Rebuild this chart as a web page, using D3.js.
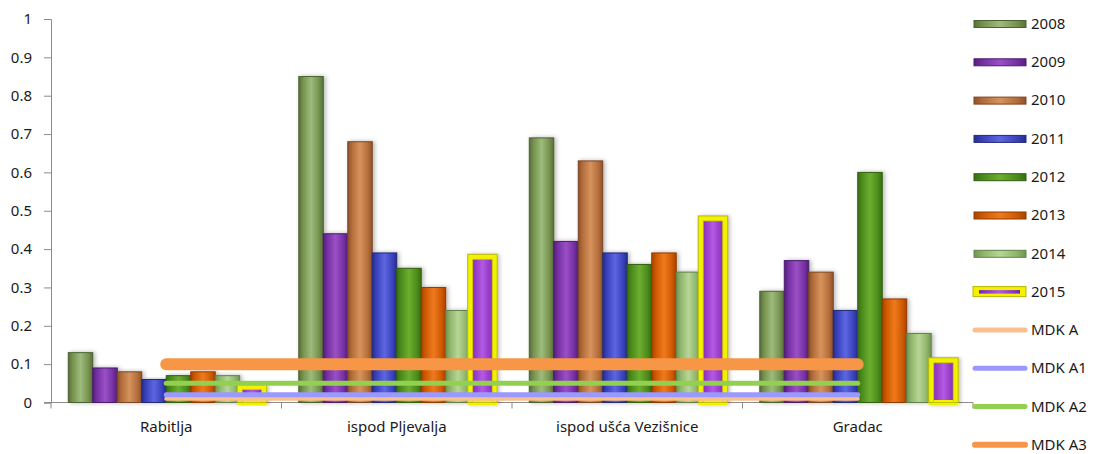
<!DOCTYPE html>
<html>
<head>
<meta charset="utf-8">
<script src="https://cdn.jsdelivr.net/npm/d3@7/dist/d3.min.js"></script>
<style>
  html, body { margin: 0; padding: 0; background: #ffffff; }
  svg { display: block; }
  text { font-family: "Noto Sans", "DejaVu Sans", sans-serif; fill: #1a1a1a; }
</style>
</head>
<body>
<svg id="chart" width="1095" height="454"></svg>
<script>
// Measuring stations along the river
const categories = ["Rabitlja", "ispod Pljevalja", "ispod ušća Vezišnice", "Gradac"];

// Yearly measurements per station
const years = ["2008", "2009", "2010", "2011", "2012", "2013", "2014", "2015"];
const values2008 = [0.13, 0.85, 0.69, 0.29];
const values2009 = [0.09, 0.44, 0.42, 0.37];
const values2010 = [0.08, 0.68, 0.63, 0.34];
const values2011 = [0.06, 0.39, 0.39, 0.24];
const values2012 = [0.07, 0.35, 0.36, 0.60];
const values2013 = [0.08, 0.30, 0.39, 0.27];
const values2014 = [0.07, 0.24, 0.34, 0.18];
const values2015 = [0.04, 0.38, 0.48, 0.11];

// Limit values (MDK classes)
const mdkNames = ["MDK A", "MDK A1", "MDK A2", "MDK A3"];
const mdkValues = [0.01, 0.02, 0.05, 0.1];

// Y axis ticks
const yTicks = [0, 0.1, 0.2, 0.3, 0.4, 0.5, 0.6, 0.7, 0.8, 0.9, 1];
const yTickLabels = ["0", "0.1", "0.2", "0.3", "0.4", "0.5", "0.6", "0.7", "0.8", "0.9", "1"];

const seriesValues = [values2008, values2009, values2010, values2011,
                      values2012, values2013, values2014, values2015];

// Bar shading: [dark edge, base, light centre, outline]
const barShades = [
  ["#56703a", "#77934f", "#9dbb7c", "#4c6233"],
  ["#561f7e", "#7631a3", "#9a4fc6", "#4a1b6c"],
  ["#8e5229", "#b46e3c", "#d6935c", "#7c4622"],
  ["#262d8f", "#3a42bd", "#5d66e0", "#222a7a"],
  ["#386f12", "#4c8c1c", "#6cae30", "#30600f"],
  ["#a84400", "#d05a04", "#ee7a1e", "#903a00"],
  ["#6e9450", "#8fb56c", "#b7d696", "#60824a"],
  ["#7426a2", "#9236c4", "#b35ae2", "#6a2090"]
];
const mdkColors = ["#f9bf8f", "#9999ff", "#92d050", "#f79646"];
const mdkWidths = [4, 5, 5, 12];

const svg = d3.select("#chart");
const defs = svg.append("defs");

barShades.forEach((s, i) => {
  const g = defs.append("linearGradient")
    .attr("id", "grad" + i).attr("x1", "0").attr("x2", "1").attr("y1", "0").attr("y2", "0");
  [[0, s[0]], [0.18, s[1]], [0.5, s[2]], [0.82, s[1]], [1, s[0]]].forEach(([o, c]) =>
    g.append("stop").attr("offset", o).attr("stop-color", c));
});

const shadow = defs.append("filter").attr("id", "shadow")
  .attr("x", "-30%").attr("y", "-10%").attr("width", "170%").attr("height", "130%");
shadow.append("feDropShadow").attr("dx", 2).attr("dy", 0).attr("stdDeviation", 2.2)
  .attr("flood-color", "#000").attr("flood-opacity", 0.28);

const plotLeft = 51, plotRight = 973, plotTop = 19, plotBottom = 402.5;

const x = d3.scaleBand().domain(categories).range([plotLeft, plotRight]).paddingInner(0).paddingOuter(0);
const y = d3.scaleLinear().domain([0, 1]).range([plotBottom, plotTop]);

const pad = 0.075;
const inner = d3.scaleBand().domain(years)
  .range([x.bandwidth() * pad, x.bandwidth() * (1 - pad)]).padding(0);

// Axes
const yAxis = d3.axisLeft(y).tickValues(yTicks)
  .tickFormat((d, i) => yTickLabels[i]).tickSize(7).tickPadding(12);
const gy = svg.append("g").attr("transform", `translate(${plotLeft},0)`).call(yAxis);
gy.select(".domain").attr("stroke", "#8c8c8c");
gy.selectAll(".tick line").attr("stroke", "#8c8c8c");
gy.selectAll(".tick text").style("font-size", "15px").attr("fill", "#1a1a1a")
  .style("font-family", "'Noto Sans', sans-serif");

// Category axis with boundary ticks
const gx = svg.append("g");
gx.append("line").attr("x1", plotLeft - 7).attr("x2", plotRight).attr("y1", plotBottom).attr("y2", plotBottom)
  .attr("stroke", "#8c8c8c");
const bounds = categories.map(c => x(c)).concat([plotRight]);
gx.selectAll("line.bt").data(bounds).enter().append("line").attr("class", "bt")
  .attr("x1", d => d).attr("x2", d => d).attr("y1", plotBottom).attr("y2", plotBottom + 6)
  .attr("stroke", "#8c8c8c");
gx.selectAll("text").data(categories).enter().append("text")
  .attr("x", d => x(d) + x.bandwidth() / 2).attr("y", 432)
  .attr("text-anchor", "middle").style("font-size", "15px").text(d => d);

// Bars
const barW = inner.bandwidth();
const gBars = svg.append("g");
years.forEach((yr, si) => {
  const g = gBars.append("g");
  seriesValues[si].forEach((v, ci) => {
    const bx = x(categories[ci]) + inner(yr);
    const by = y(v);
    const h = y(0) - by;
    if (si === 7) {
      g.append("rect").attr("x", bx).attr("y", by).attr("width", barW).attr("height", h)
        .attr("fill", "url(#grad7)").attr("stroke", "#f2f200").attr("stroke-width", 5)
        .attr("filter", "url(#shadow)");
      g.append("rect").attr("x", bx - 2.5).attr("y", by - 2.5).attr("width", barW + 5).attr("height", h + 2.5)
        .attr("fill", "none").attr("stroke", "#b8b800").attr("stroke-width", 1);
      g.append("rect").attr("x", bx + 2.5).attr("y", by + 2.5).attr("width", barW - 5).attr("height", Math.max(0, h - 2.5))
        .attr("fill", "none").attr("stroke", "#c9c900").attr("stroke-width", 0.8);
    } else {
      g.append("rect").attr("x", bx).attr("y", by).attr("width", barW).attr("height", h)
        .attr("fill", `url(#grad${si})`).attr("stroke", barShades[si][3]).attr("stroke-width", 1)
        .attr("filter", "url(#shadow)");
    }
  });
});

// MDK limit lines spanning from first to last station
const xStart = x(categories[0]) + x.bandwidth() / 2;
const xEnd = x(categories[categories.length - 1]) + x.bandwidth() / 2;
mdkValues.forEach((v, i) => {
  svg.append("line").attr("x1", xStart).attr("x2", xEnd).attr("y1", y(v)).attr("y2", y(v))
    .attr("stroke", mdkColors[i]).attr("stroke-width", mdkWidths[i])
    .attr("stroke-linecap", "round");
});

// Legend
const legend = svg.append("g");
const rowY = d => 23.5 + d * 38.3;
years.forEach((yr, i) => {
  const cy = rowY(i);
  if (i === 7) {
    legend.append("rect").attr("x", 973).attr("y", cy - 5).attr("width", 53).attr("height", 10)
      .attr("fill", "#f2f200").attr("stroke", "#b8b800").attr("stroke-width", 1);
    legend.append("rect").attr("x", 979).attr("y", cy - 1.5).attr("width", 41).attr("height", 3.5)
      .attr("fill", "url(#grad7)");
  } else {
    legend.append("rect").attr("x", 974).attr("y", cy - 3).attr("width", 52).attr("height", 7)
      .attr("fill", `url(#grad${i})`).attr("stroke", barShades[i][3]).attr("stroke-width", 1);
  }
  legend.append("text").attr("x", 1031).attr("y", cy).attr("dy", "0.35em")
    .style("font-size", "15px").text(yr);
});
mdkNames.forEach((name, i) => {
  const cy = rowY(years.length + i);
  legend.append("line").attr("x1", 975).attr("x2", 1025).attr("y1", cy).attr("y2", cy)
    .attr("stroke", mdkColors[i]).attr("stroke-width", i === 3 ? 6 : 5).attr("stroke-linecap", "round");
  legend.append("text").attr("x", 1031).attr("y", cy).attr("dy", "0.35em")
    .style("font-size", "15px").text(name);
});
</script>
</body>
</html>
